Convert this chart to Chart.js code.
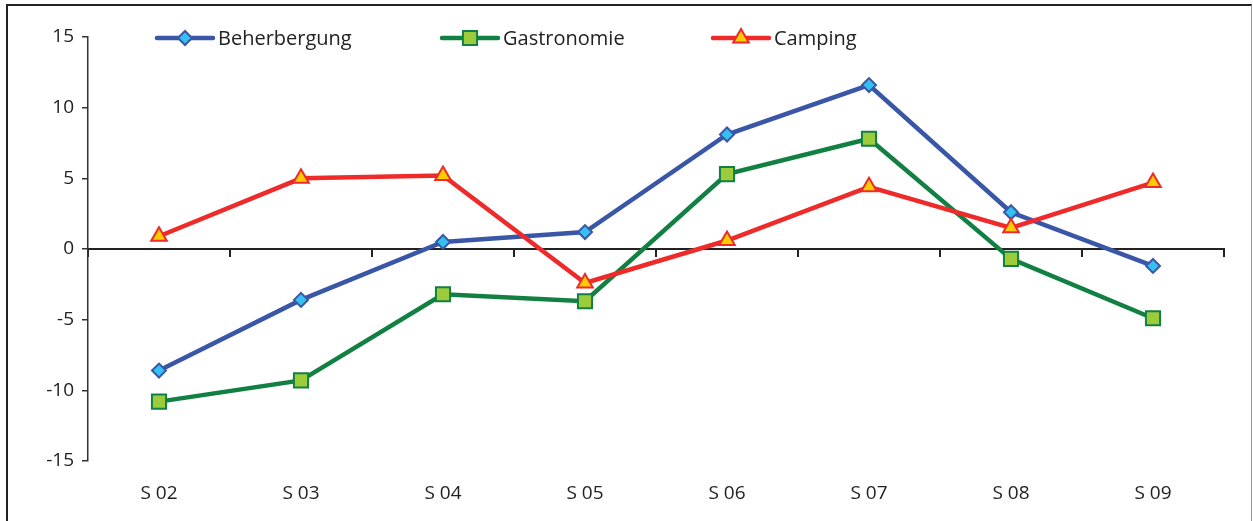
<!DOCTYPE html>
<html>
<head>
<meta charset="utf-8">
<script src="https://cdn.jsdelivr.net/npm/chart.js@4"></script>
<style>
    html, body { margin: 0; padding: 0; background: #fff; }
    #wrap { position: relative; width: 1253px; height: 521px; overflow: hidden; }
    #chart { position: absolute; left: 0; top: 0; }
    #frame {
        position: absolute; left: 6px; top: 4px; width: 1243px; height: 560px;
        border-left: 2px solid #222; border-top: 2px solid #222; border-right: 1px solid #999;
        pointer-events: none;
    }
</style>
</head>
<body>
<div id="wrap">
    <canvas id="chart" width="1253" height="521"></canvas>
    <div id="frame"></div>
</div>
<script>
const weeks = ['S 02', 'S 03', 'S 04', 'S 05', 'S 06', 'S 07', 'S 08', 'S 09'];
const beherbergung = [-8.6, -3.6, 0.5, 1.2, 8.1, 11.6, 2.6, -1.2];
const gastronomie = [-10.8, -9.3, -3.2, -3.7, 5.3, 7.8, -0.7, -4.9];
const camping = [0.9, 5.0, 5.2, -2.4, 0.6, 4.4, 1.5, 4.7];
const yMin = -15, yMax = 15, yStep = 5;

const textColor = '#222';
const tickFont = { family: '"Open Sans", sans-serif', size: 19 };

// legend: short line with the marker in the middle, like the original
const legendX = [157, 442, 713];
const lineLegend = {
    id: 'lineLegend',
    afterDraw(chart) {
        const ctx = chart.ctx;
        ctx.save();
        chart.data.datasets.forEach((ds, i) => {
            const x = legendX[i], y = 38;
            ctx.strokeStyle = ds.borderColor;
            ctx.lineWidth = 4.5;
            ctx.lineCap = 'round';
            ctx.beginPath();
            ctx.moveTo(x, y);
            ctx.lineTo(x + 56, y);
            ctx.stroke();
            ctx.fillStyle = ds.pointBackgroundColor;
            ctx.strokeStyle = ds.pointBorderColor;
            ctx.lineWidth = ds.pointBorderWidth;
            Chart.helpers.drawPoint(ctx, {
                pointStyle: ds.pointStyle,
                radius: ds.pointRadius,
                borderWidth: ds.pointBorderWidth,
                rotation: 0
            }, x + 28, y);
            ctx.fillStyle = textColor;
            ctx.font = '20px "Open Sans", sans-serif';
            ctx.textBaseline = 'middle';
            ctx.textAlign = 'left';
            ctx.fillText(ds.label, x + 61, y + 1);
        });
        ctx.restore();
    }
};

const ctx = document.getElementById('chart').getContext('2d');
const chart = new Chart(ctx, {
    type: 'line',
    data: {
        labels: weeks,
        datasets: [{
            label: 'Beherbergung',
            data: beherbergung,
            borderColor: '#3a56a6',
            borderWidth: 4.5,
            pointStyle: 'rectRot',
            pointRadius: 7,
            pointBorderWidth: 2,
            pointBackgroundColor: '#34c0f0',
            pointBorderColor: '#3a56a6',
            order: 3
        }, {
            label: 'Gastronomie',
            data: gastronomie,
            borderColor: '#128042',
            borderWidth: 4.5,
            pointStyle: 'rect',
            pointRadius: 10,
            pointBorderWidth: 2,
            pointBackgroundColor: '#9ccb3b',
            pointBorderColor: '#128042',
            order: 2
        }, {
            label: 'Camping',
            data: camping,
            borderColor: '#ee2a2a',
            borderWidth: 4.5,
            pointStyle: 'triangle',
            pointRadius: 9,
            pointBorderWidth: 2,
            pointBackgroundColor: '#ffcc00',
            pointBorderColor: '#ee2a2a',
            order: 1
        }]
    },
    options: {
        responsive: false,
        animation: false,
        events: [],
        layout: { padding: { top: 37, right: 29, left: 0, bottom: 0 } },
        elements: { line: { tension: 0 } },
        plugins: {
            legend: { display: false },
            tooltip: { enabled: false }
        },
        scales: {
            x: {
                position: 'bottom',
                offset: true,
                grid: { display: false, drawTicks: false, offset: true },
                border: { display: false },
                ticks: { color: textColor, font: tickFont, padding: 21, maxRotation: 0 },
                afterFit(scale) { scale.height = 60; }
            },
            x0: {
                type: 'category',
                position: { y: 0 },
                offset: true,
                grid: { offset: true, drawOnChartArea: false, tickLength: 7, color: '#222', lineWidth: 2 },
                border: { color: '#222', width: 2 },
                ticks: { display: false }
            },
            y: {
                min: yMin,
                max: yMax,
                ticks: { stepSize: yStep, color: textColor, font: tickFont, padding: 8 },
                grid: { drawOnChartArea: false, tickLength: 6, color: '#333', lineWidth: 1.5 },
                border: { color: '#333', width: 1.5 },
                afterFit(scale) { scale.width = 88; }
            }
        }
    },
    plugins: [lineLegend]
});
</script>
</body>
</html>
